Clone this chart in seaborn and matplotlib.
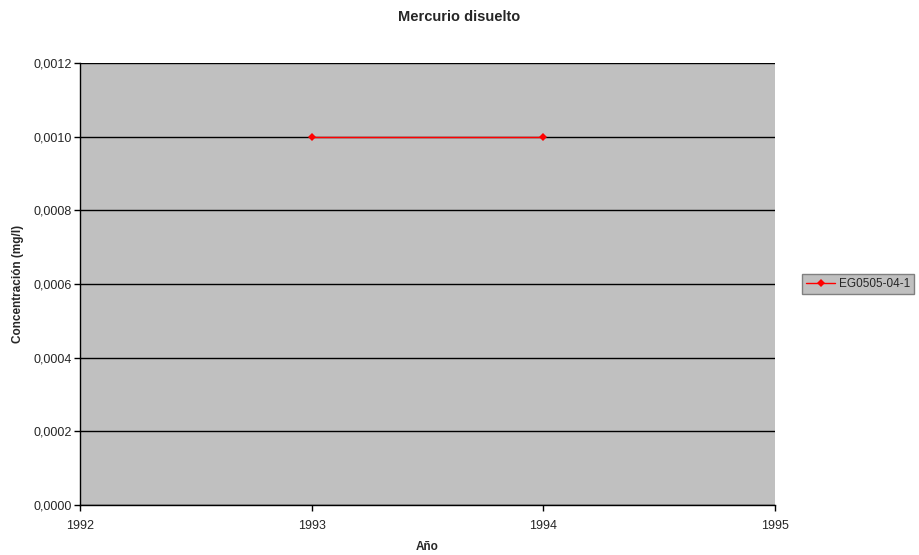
import matplotlib
matplotlib.use("Agg")
import matplotlib.pyplot as plt
import seaborn as sns
import pandas as pd
from matplotlib.ticker import FuncFormatter, MultipleLocator

years = [1993, 1994]
values = [0.0010, 0.0010]
series_name = "EG0505-04-1"
title = "Mercurio disuelto"
xlabel = "Año"
ylabel = "Concentración (mg/l)"

df = pd.DataFrame({"Año": years, "valor": values, "serie": series_name})

sns.set_theme(style="white")
plt.rcParams["font.family"] = ["Liberation Sans", "DejaVu Sans"]

fig = plt.figure(figsize=(9.19, 5.55), dpi=100)
ax = fig.add_axes([80/919, 1 - 505/555, (775-80)/919, (505-63)/555])
ax.set_facecolor("#c0c0c0")

sns.lineplot(data=df, x="Año", y="valor", hue="serie", palette=["#ff0000"],
             marker="D", markersize=4, markeredgewidth=0, linewidth=1.0, ax=ax)

ax.set_xlim(1992, 1995)
ax.set_ylim(0, 0.0012)
ax.xaxis.set_major_locator(MultipleLocator(1))
ax.yaxis.set_major_locator(MultipleLocator(0.0002))
ax.xaxis.set_major_formatter(FuncFormatter(lambda v, p: f"{int(round(v))}"))
ax.yaxis.set_major_formatter(FuncFormatter(lambda v, p: f"{v:.4f}".replace(".", ",")))
ax.grid(axis="y", color="black", linewidth=1.0)
ax.set_axisbelow(True)

for s in ["top", "right"]:
    ax.spines[s].set_visible(False)
for s in ["left", "bottom"]:
    ax.spines[s].set_color("black")
    ax.spines[s].set_linewidth(1.0)
ax.tick_params(axis="both", direction="out", length=4, width=1, color="black",
               labelsize=9, bottom=True, left=True)
ax.tick_params(axis="x", pad=7)
ax.tick_params(axis="y", pad=2)

fig.suptitle(title, x=0.5, y=1 - 17/555, va="center", fontsize=10.5, fontweight="bold")
ax.set_xlabel(xlabel, fontsize=8.5, fontweight="bold", labelpad=6)
ax.set_ylabel(ylabel, fontsize=8.5, fontweight="bold", labelpad=7)

leg = ax.legend(loc="center left", bbox_to_anchor=(1.03, 0.5), fontsize=8.5,
                frameon=True, fancybox=False, handlelength=2.5,
                borderpad=0.35, handletextpad=0.3)
leg.get_frame().set_facecolor("#c0c0c0")
leg.get_frame().set_edgecolor("#808080")
leg.get_frame().set_alpha(1)

fig.savefig("out.png", dpi=100)
